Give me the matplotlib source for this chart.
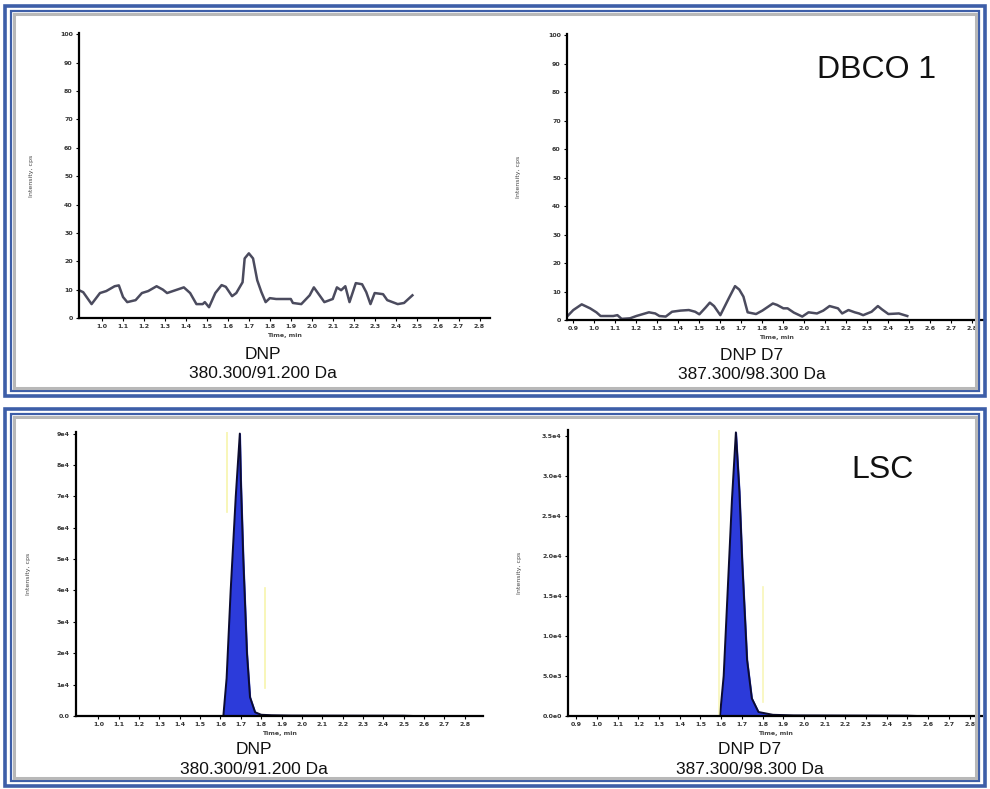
import matplotlib
matplotlib.use("Agg")
import matplotlib.pyplot as plt
from matplotlib.patches import Rectangle

# DBCO 1, DNP 380.300/91.200 Da  (time in min, intensity in cps)
dnp_t = [0.89, 0.91, 0.95, 0.99, 1.02, 1.06, 1.08, 1.10, 1.12, 1.16, 1.19, 1.22, 1.26, 1.29,
         1.31, 1.35, 1.39, 1.42, 1.45, 1.48, 1.49, 1.51, 1.54, 1.57, 1.59, 1.62, 1.64, 1.67,
         1.68, 1.70, 1.72, 1.74, 1.76, 1.78, 1.80, 1.83, 1.90, 1.91, 1.95, 1.99, 2.01, 2.04,
         2.06, 2.10, 2.12, 2.14, 2.16, 2.18, 2.21, 2.24, 2.26, 2.28, 2.30, 2.34, 2.36, 2.41,
         2.44, 2.48]
dnp_v = [9.8, 9.1, 4.9, 8.8, 9.5, 11.2, 11.5, 7.4, 5.6, 6.3, 8.8, 9.5, 11.2, 10.0,
         8.8, 9.8, 10.8, 8.8, 4.9, 4.9, 5.6, 3.8, 8.8, 11.6, 11.0, 7.7, 8.8, 12.6,
         21.0, 22.8, 21.0, 13.3, 9.1, 5.6, 7.0, 6.7, 6.7, 5.3, 4.9, 8.0, 10.8, 7.7,
         5.6, 6.7, 10.8, 9.8, 11.2, 5.6, 12.3, 11.9, 9.1, 4.9, 8.8, 8.4, 6.3, 4.9,
         5.3, 8.0]

# DBCO 1, DNP D7 387.300/98.300 Da
d7_t = [0.87, 0.90, 0.94, 0.98, 1.01, 1.03, 1.09, 1.11, 1.13, 1.17, 1.20, 1.26, 1.29, 1.31,
        1.34, 1.37, 1.41, 1.45, 1.48, 1.50, 1.53, 1.55, 1.57, 1.60, 1.64, 1.67, 1.69, 1.71,
        1.73, 1.77, 1.80, 1.85, 1.87, 1.90, 1.92, 1.95, 1.99, 2.02, 2.06, 2.09, 2.12, 2.16,
        2.18, 2.21, 2.24, 2.26, 2.28, 2.32, 2.35, 2.37, 2.40, 2.45, 2.49]
d7_v = [1.2, 3.5, 5.5, 4.1, 2.7, 1.4, 1.4, 1.7, 0.4, 0.6, 1.4, 2.7, 2.3, 1.4,
        1.2, 2.9, 3.3, 3.5, 2.9, 2.0, 4.4, 6.1, 4.9, 1.7, 7.6, 11.9, 10.7, 8.2,
        2.7, 2.1, 3.3, 5.8, 5.3, 4.1, 4.1, 2.6, 1.2, 2.7, 2.3, 3.3, 4.9, 4.1,
        2.3, 3.5, 2.7, 2.3, 1.7, 2.9, 4.9, 3.7, 2.1, 2.3, 1.4]

# LSC, DNP
lsc_dnp_t = [0.89, 1.614, 1.63, 1.65, 1.675, 1.695, 1.70, 1.712, 1.73, 1.745, 1.77, 1.80,
             1.85, 1.95, 2.50, 2.55, 2.89]
lsc_dnp_v = [0, 0, 12000, 40000, 70000, 90000, 75000, 50000, 20000, 6000, 1200, 400,
             250, 150, 100, 0, 0]

# LSC, DNP D7
lsc_d7_t = [0.86, 1.594, 1.612, 1.632, 1.652, 1.671, 1.688, 1.702, 1.725, 1.748, 1.78,
            1.85, 1.95, 2.50, 2.55, 2.86]
lsc_d7_v = [0, 0, 5000, 16000, 27000, 35400, 28000, 19000, 7000, 2200, 500,
            150, 80, 40, 0, 0]

top_yticks = [0, 10, 20, 30, 40, 50, 60, 70, 80, 90, 100]
top_ylabels = ["0", "10", "20", "30", "40", "50", "60", "70", "80", "90", "100"]
bl_yticks = [0, 1e4, 2e4, 3e4, 4e4, 5e4, 6e4, 7e4, 8e4, 9e4]
bl_ylabels = ["0.0", "1e4", "2e4", "3e4", "4e4", "5e4", "6e4", "7e4", "8e4", "9e4"]
br_yticks = [0, 5e3, 1e4, 1.5e4, 2e4, 2.5e4, 3e4, 3.5e4]
br_ylabels = ["0.0e0", "5.0e3", "1.0e4", "1.5e4", "2.0e4", "2.5e4", "3.0e4", "3.5e4"]
xt_from_10 = [1.0 + 0.1 * i for i in range(19)]
xt_from_09 = [0.9 + 0.1 * i for i in range(20)]

fig = plt.figure(figsize=(9.9, 7.89), dpi=100)
W, H = 990, 789


def fx(px):
    return px / W


def fy(py):
    return 1 - py / H


# panel frames: outer and inner blue lines, grey inner shadow
blue = "#3d5ea8"
for top, bot in [(6, 396), (409, 786)]:
    fig.patches.append(Rectangle((fx(5), fy(bot)), fx(980), (bot - top) / H,
                                 transform=fig.transFigure, fill=False,
                                 edgecolor=blue, lw=2.6))
    fig.patches.append(Rectangle((fx(11), fy(bot - 5)), fx(968), (bot - top - 10) / H,
                                 transform=fig.transFigure, fill=False,
                                 edgecolor=blue, lw=1.6))
    fig.patches.append(Rectangle((fx(14), fy(bot - 8)), fx(962), (bot - top - 16) / H,
                                 transform=fig.transFigure, fill=False,
                                 edgecolor="#b8b8b8", lw=2.2))


def make_ax(l, r, b, t, xlim, ylim, xt, yt, yl):
    ax = fig.add_axes([fx(l), fy(b), fx(r - l), (b - t) / H])
    ax.set_xlim(*xlim)
    ax.set_ylim(*ylim)
    for s in ["top", "right"]:
        ax.spines[s].set_visible(False)
    for s in ["left", "bottom"]:
        ax.spines[s].set_linewidth(1.6)
    ax.set_xticks(xt)
    ax.set_xticklabels([f"{v:.1f}" for v in xt], fontsize=4.5, fontweight="bold", color="#333333")
    ax.set_yticks(yt)
    ax.set_yticklabels(yl, fontsize=4.5, fontweight="bold", color="#333333")
    ax.tick_params(length=2.5, width=0.8, pad=2)
    ax.set_ylabel("Intensity, cps", fontsize=4.5, color="#444444")
    ax.yaxis.set_label_coords(-0.11, 0.5)
    ax.set_xlabel("Time, min", fontsize=4.5, fontweight="bold", color="#444444", labelpad=3)
    ax.patch.set_alpha(0)
    return ax


line_col = "#4b4b5e"

ax1 = make_ax(79, 490, 318, 33, (0.89, 2.85), (0, 100.5), xt_from_10, top_yticks, top_ylabels)
ax1.plot(dnp_t, dnp_v, color=line_col, lw=1.8)

ax2 = make_ax(567, 985, 320, 34, (0.87, 2.86), (0, 100.5), xt_from_09, top_yticks, top_ylabels)
ax2.plot(d7_t, d7_v, color=line_col, lw=1.8)

ax3 = make_ax(76, 483, 716, 432, (0.89, 2.89), (0, 9.05e4), xt_from_10, bl_yticks, bl_ylabels)
ax3.fill_between(lsc_dnp_t, lsc_dnp_v, color="#2030d8", alpha=0.95)
ax3.plot(lsc_dnp_t, lsc_dnp_v, color="#0c0c30", lw=1.4)
ax3.axvline(1.63, 0.72, 1.0, color="#f4f08a", lw=1.2, alpha=0.7)
ax3.axvline(1.82, 0.1, 0.45, color="#f4f08a", lw=1.2, alpha=0.7)

ax4 = make_ax(568, 982, 716, 430, (0.86, 2.86), (0, 3.57e4), xt_from_09, br_yticks, br_ylabels)
ax4.fill_between(lsc_d7_t, lsc_d7_v, color="#2030d8", alpha=0.95)
ax4.plot(lsc_d7_t, lsc_d7_v, color="#0c0c30", lw=1.4)
ax4.axvline(1.59, 0.0, 1.0, color="#f4f08a", lw=1.2, alpha=0.6)
ax4.axvline(1.80, 0.05, 0.45, color="#f4f08a", lw=1.2, alpha=0.6)

# captions under each chromatogram
cap = dict(ha="center", va="center", fontsize=12.5, color="#111111", family="Liberation Sans")
fig.text(fx(263), fy(354), "DNP", **cap)
fig.text(fx(263), fy(374), "380.300/91.200 Da", **cap)
fig.text(fx(752), fy(355), "DNP D7", **cap)
fig.text(fx(752), fy(375), "387.300/98.300 Da", **cap)
fig.text(fx(254), fy(750), "DNP", **cap)
fig.text(fx(254), fy(770), "380.300/91.200 Da", **cap)
fig.text(fx(750), fy(750), "DNP D7", **cap)
fig.text(fx(750), fy(770), "387.300/98.300 Da", **cap)

big = dict(ha="center", va="center", fontsize=23, color="#111111", family="Liberation Sans")
fig.text(fx(877), fy(70), "DBCO 1", **big)
fig.text(fx(883), fy(470), "LSC", **big)

fig.savefig("out.png", dpi=100)
